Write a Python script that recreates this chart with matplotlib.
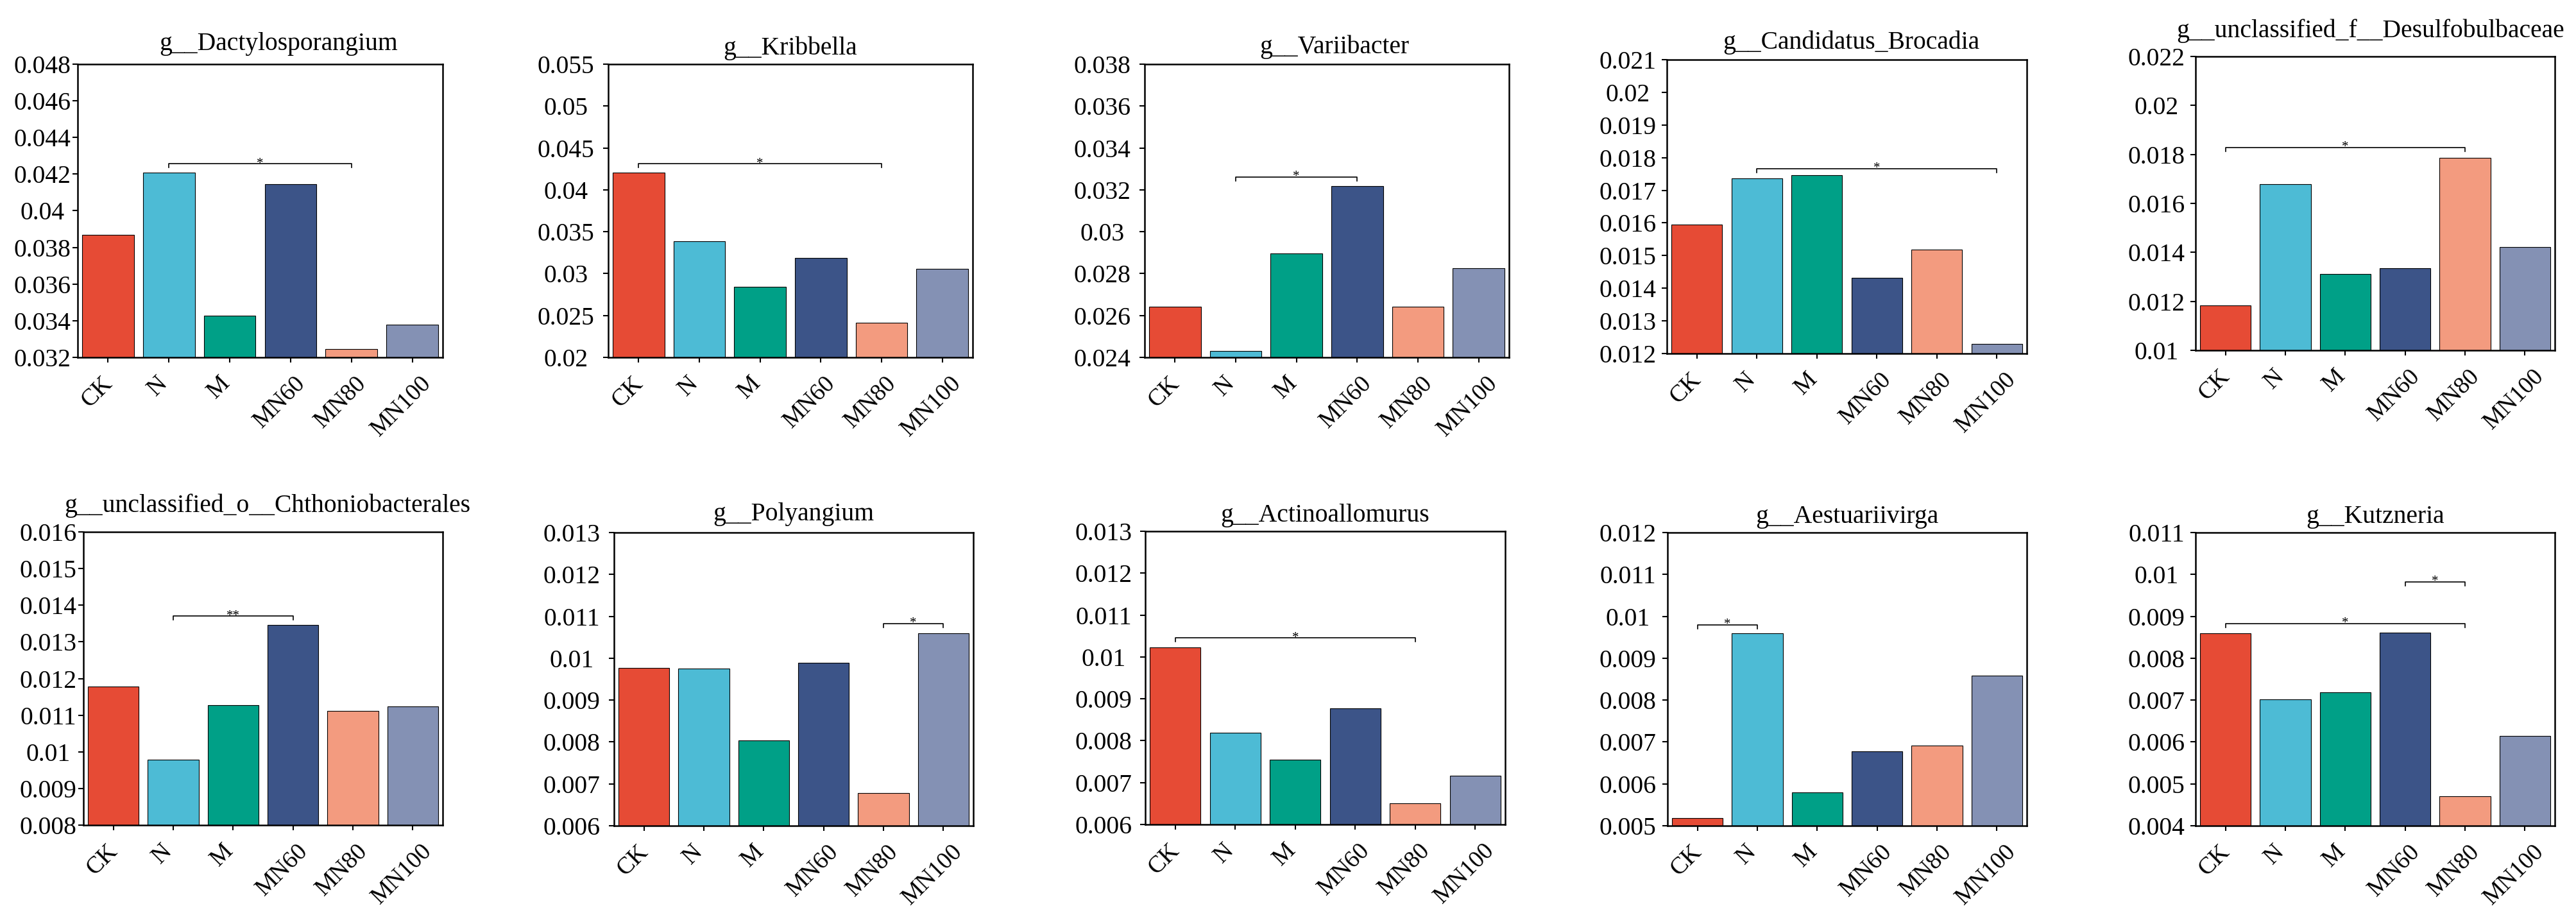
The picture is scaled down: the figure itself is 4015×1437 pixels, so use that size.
import matplotlib
matplotlib.use('Agg')
import matplotlib.pyplot as plt
import numpy as np
from matplotlib.transforms import ScaledTranslation

plt.rcParams['font.family'] = ['Liberation Serif', 'DejaVu Serif']

# ---- data ----
groups = ['CK', 'N', 'M', 'MN60', 'MN80', 'MN100']
bar_colors = ['#E64B35', '#4DBBD5', '#00A087', '#3C5488', '#F39B7F', '#8491B4']

titles = ['g__Dactylosporangium', 'g__Kribbella', 'g__Variibacter',
          'g__Candidatus_Brocadia', 'g__unclassified_f__Desulfobulbaceae',
          'g__unclassified_o__Chthoniobacterales', 'g__Polyangium',
          'g__Actinoallomurus', 'g__Aestuariivirga', 'g__Kutzneria']

dactylosporangium = [0.03869, 0.04208, 0.03429, 0.04147, 0.03244, 0.03380]
kribbella = [0.04206, 0.03387, 0.02845, 0.03190, 0.02413, 0.03057]
variibacter = [0.02643, 0.02432, 0.02895, 0.03219, 0.02641, 0.02827]
brocadia = [0.01594, 0.01736, 0.01747, 0.01431, 0.01518, 0.01229]
desulfobulbaceae = [0.01183, 0.01679, 0.01311, 0.01336, 0.01785, 0.01423]
chthoniobacterales = [0.01178, 0.00979, 0.01128, 0.01347, 0.01112, 0.01123]
polyangium = [0.00977, 0.00975, 0.00803, 0.00989, 0.00678, 0.01060]
actinoallomurus = [0.01023, 0.00819, 0.00755, 0.00878, 0.00651, 0.00717]
aestuariivirga = [0.00518, 0.00959, 0.00579, 0.00677, 0.00692, 0.00859]
kutzneria = [0.00859, 0.00701, 0.00719, 0.00861, 0.00471, 0.00615]

values = [dactylosporangium, kribbella, variibacter, brocadia, desulfobulbaceae,
          chthoniobacterales, polyangium, actinoallomurus, aestuariivirga, kutzneria]

# y axis: (min, max, step)
y_ranges = [(0.032, 0.048, 0.002), (0.020, 0.055, 0.005), (0.024, 0.038, 0.002),
            (0.012, 0.021, 0.001), (0.010, 0.022, 0.002), (0.008, 0.016, 0.001),
            (0.006, 0.013, 0.001), (0.006, 0.013, 0.001), (0.005, 0.012, 0.001),
            (0.004, 0.011, 0.001)]

# significance brackets: (group i, group j, height, label)
sig_marks = [
    [(1, 4, 0.04256, '*')],
    [(0, 4, 0.04310, '*')],
    [(1, 3, 0.03261, '*')],
    [(1, 5, 0.01766, '*')],
    [(0, 4, 0.01828, '*')],
    [(1, 3, 0.01370, '**')],
    [(4, 5, 0.01082, '*')],
    [(0, 4, 0.01045, '*')],
    [(0, 1, 0.00980, '*')],
    [(3, 4, 0.00982, '*'), (0, 4, 0.00883, '*')],
]

# ---- layout (pixels in a 4015x1437 canvas) ----
W, H = 4015, 1437
axes_px = [(121, 100, 690, 557), (948, 100, 1516, 557), (1784, 100, 2352, 557),
           (2598, 93, 3159, 551), (3422, 88, 3982, 546),
           (130, 829, 690, 1286), (957, 830, 1517, 1287), (1785, 828, 2346, 1285),
           (2599, 830, 3159, 1287), (3422, 830, 3982, 1287)]
ylabel_center_px = [55, 66, 66, 61, 61, 55, 66, 65, 62, 61]
title_pads = [16, 10.5, 12.5, 12, 21.5, 22.5, 14, 11, 11, 10.5]
title_x = [0.55, 0.5, 0.52, 0.512, 0.486, 0.512, 0.5, 0.5, 0.5, 0.5]

FS = 28.5
fig = plt.figure(figsize=(W / 100, H / 100), dpi=100)
x = np.arange(len(groups))
tick_len = 6

for k in range(10):
    l, t, r, b = axes_px[k]
    ax = fig.add_axes([l / W, 1 - b / H, (r - l) / W, (b - t) / H])
    ax.bar(x, values[k], width=0.85, color=bar_colors, edgecolor='black', linewidth=0.8,
           bottom=0)
    ymin, ymax, step = y_ranges[k]
    ax.set_ylim(ymin, ymax)
    ax.set_xlim(-0.5, 5.5)
    yt = np.round(np.arange(ymin, ymax + step / 2, step), 6)
    ax.set_yticks(yt)
    ax.set_yticklabels([f'{v:g}' for v in yt], ha='center', fontsize=FS)
    ax.set_xticks(x)
    ax.set_xticklabels(groups, rotation=45, ha='center', va='top', fontsize=27)
    pad_pt = ylabel_center_px[k] * 72 / 100 - tick_len
    ax.tick_params(axis='y', direction='out', length=tick_len, width=1.5, pad=pad_pt)
    ax.tick_params(axis='x', direction='out', length=5.5, width=1.5, pad=11)
    for lab in ax.get_xticklabels():
        lab.set_transform(lab.get_transform() + ScaledTranslation(-17 / 100, 0, fig.dpi_scale_trans))
    for sp in ax.spines.values():
        sp.set_linewidth(1.8)
    ax.set_title(titles[k], fontsize=FS, pad=title_pads[k], x=title_x[k])

    drop = (ymax - ymin) * 6 / 457
    for i, j, h, lab in sig_marks[k]:
        ax.plot([i, i, j, j], [h - drop, h, h, h - drop], color='black', lw=1.2,
                clip_on=False)
        ax.annotate(lab, xy=((i + j) / 2, h), xytext=(0, -3), textcoords='offset points',
                    ha='center', va='baseline', fontsize=15)

fig.savefig('out.png', dpi=100, facecolor='white')
